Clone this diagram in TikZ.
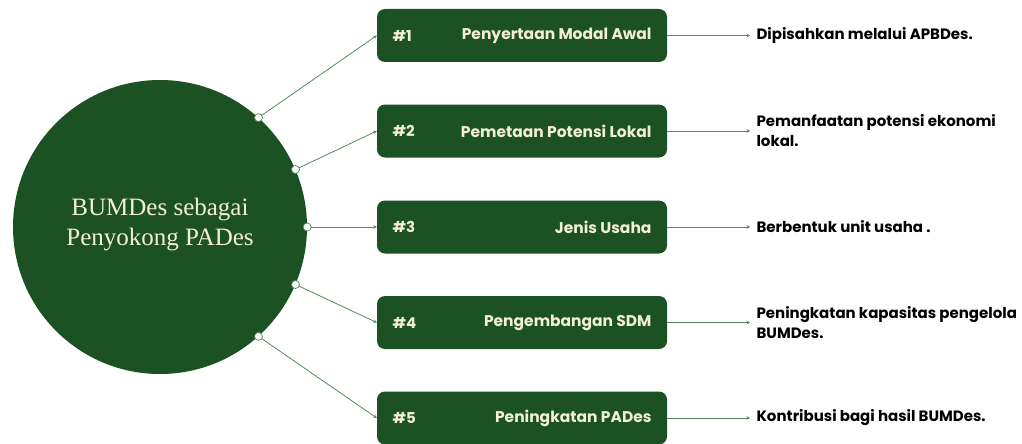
\documentclass[tikz,border=0pt]{standalone}
\usepackage{fontspec}
\setmainfont{Poppins}
\newfontfamily\serifx{Liberation Serif}
\usetikzlibrary{arrows.meta}
\definecolor{dkgreen}{RGB}{28,81,36}
\definecolor{cream}{RGB}{243,239,214}
\definecolor{lngreen}{RGB}{84,138,92}
\tikzset{
  stepbox/.style={draw=none,fill=dkgreen,rounded corners=8pt,minimum width=290pt,minimum height=53pt,inner sep=0pt},
  numtxt/.style={anchor=west,text=cream,font=\bfseries\fontsize{15}{17}\selectfont},
  titletxt/.style={anchor=east,text=cream,font=\bfseries\fontsize{15.5}{17}\selectfont},
  desctxt/.style={anchor=west,text=black,align=left,font=\bfseries\fontsize{15}{20}\selectfont},
  link/.style={draw=lngreen,line width=0.8pt,-{Stealth[length=3.5pt,width=3.5pt]}},
  dotc/.style={circle,draw=lngreen,fill=white,line width=0.7pt,minimum size=8pt,inner sep=0pt},
}
\begin{document}
\begin{tikzpicture}[x=1pt,y=-1pt]
\useasboundingbox (0,0) rectangle (1022,444);
\node[circle,fill=dkgreen,minimum size=294pt,inner sep=0pt] (c) at (160,227) {};
\node[text=cream,align=center,font=\serifx\fontsize{25}{30}\selectfont] (ct) at (160,225) {BUMDes sebagai\\Penyokong PADes};

\foreach \i/\y/\ang/\num/\title in {1/35.5/48.5/\#1/Penyertaan Modal Awal,
  2/131/23.3/\#2/Pemetaan Potensi Lokal,
  3/227/0/\#3/Jenis Usaha,
  4/322.5/-23.3/\#4/Pengembangan SDM,
  5/418/-48.5/\#5/Peningkatan PADes}{
  \node[stepbox] (b\i) at (522,\y) {};
  \node[numtxt] (n\i) at (389,\y) {\num};
  \node[titletxt] (t\i) at (655,\y) {\title};
  \coordinate (p\i) at (c.\ang);
  \coordinate (e\i) at (750,\y);
  \draw[link] (p\i) -- (b\i.west);
  \draw[link] (b\i.east) -- (e\i);
  \node[dotc] (d\i) at (p\i) {};
}
\node[desctxt] (r1) at (753,35.5) {Dipisahkan melalui APBDes.};
\node[desctxt] (r2) at (753,131) {Pemanfaatan potensi ekonomi\\lokal.};
\node[desctxt] (r3) at (753,227) {Berbentuk unit usaha .};
\node[desctxt] (r4) at (753,322.5) {Peningkatan kapasitas pengelola\\BUMDes.};
\node[desctxt] (r5) at (753,418) {Kontribusi bagi hasil BUMDes.};
\end{tikzpicture}
\end{document}
